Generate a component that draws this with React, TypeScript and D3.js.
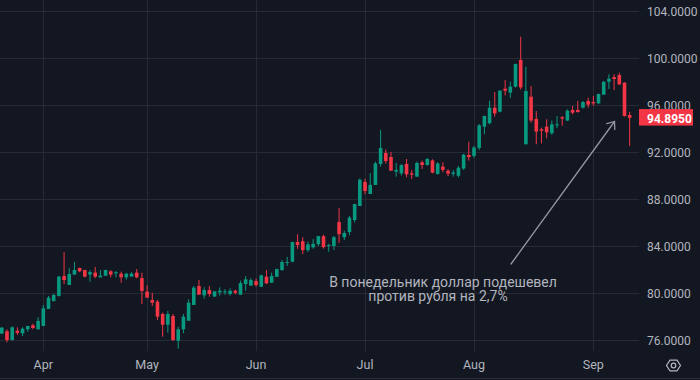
import React from "react";
import * as d3 from "d3";

// Daily USD/RUB candles (index 0 = a few sessions before April)
const opens = [
  76.55, 76.74, 76.0, 76.79, 76.57, 76.91, 77.25, 76.91, 77.19, 78.64,
  79.32, 79.74, 81.44, 80.68, 81.56, 82.12, 81.95, 81.56, 81.73, 81.33,
  81.47, 81.84, 81.67, 81.64, 81.33, 81.39, 81.73, 81.27, 80.11, 79.4,
  79.26, 78.21, 77.3, 78.04, 75.94, 76.91, 77.64, 78.98, 80.59, 79.8,
  80.25, 79.69, 80.05, 80.1, 79.91, 80.19, 79.85, 80.76, 80.62, 81.01,
  80.53, 81.38, 80.87, 81.38, 81.95, 82.57, 82.66, 84.33, 84.4, 83.64,
  83.88, 84.15, 84.83, 84.0, 83.99, 86.03, 84.74, 85.17, 86.2, 87.39,
  89.44, 88.41, 89.18, 90.97, 91.9, 91.56, 90.32, 90.17, 90.97, 90.17,
  89.89, 91.11, 90.88, 91.27, 90.12, 90.74, 90.4, 90.13, 89.96, 90.58,
  91.73, 91.65, 92.33, 94.14, 94.43, 95.75, 95.41, 97.37, 97.03, 97.54,
  99.81, 92.64, 96.69, 94.8, 93.92, 94.14, 93.58, 94.26, 94.94, 94.66,
  95.56, 95.56, 95.75, 96.32, 96.24, 96.12, 96.86, 97.96, 98.36, 98.53,
  97.88, 95.13,
];
const highs = [
  77.1, 76.91, 77.15, 77.08, 77.08, 77.19, 77.39, 77.93, 78.98, 79.74,
  79.91, 81.45, 83.48, 82.1, 82.63, 82.15, 81.97, 81.95, 82.21, 81.95,
  81.97, 81.93, 81.87, 81.81, 81.7, 81.76, 82.04, 81.73, 80.65, 80.02,
  79.4, 78.32, 78.47, 78.21, 77.13, 78.21, 79.45, 80.59, 81.1, 80.48,
  80.59, 80.16, 80.48, 80.33, 80.39, 80.28, 81.04, 81.44, 81.27, 81.21,
  81.55, 81.95, 81.72, 82.05, 82.8, 83.06, 84.35, 84.98, 84.74, 84.37,
  84.58, 84.85, 84.95, 84.18, 84.85, 87.22, 85.3, 86.54, 87.58, 89.74,
  89.71, 90.2, 91.16, 93.86, 92.19, 91.99, 91.05, 90.94, 91.39, 90.46,
  91.16, 91.25, 91.48, 91.36, 91.11, 91.11, 90.51, 90.46, 90.8, 91.82,
  92.86, 92.5, 94.37, 95.07, 96.35, 97.08, 97.25, 98.1, 97.96, 99.5,
  101.79, 99.24, 97.59, 95.47, 94.06, 94.77, 94.66, 95.05, 95.05, 95.61,
  95.9, 96.32, 96.32, 96.6, 96.75, 96.95, 98.02, 98.59, 98.59, 98.73,
  97.9, 95.41,
];
const lows = [
  76.5, 75.8, 75.95, 76.43, 76.34, 76.71, 76.91, 76.91, 77.19, 78.64,
  79.26, 79.7, 80.76, 80.68, 81.56, 81.76, 81.33, 80.96, 81.25, 81.33,
  81.45, 81.33, 81.33, 80.87, 81.13, 81.39, 81.25, 79.06, 79.6, 78.89,
  77.7, 76.28, 76.62, 75.91, 75.26, 76.57, 77.64, 78.98, 79.85, 79.52,
  79.69, 79.67, 79.77, 79.85, 79.77, 79.88, 79.85, 80.19, 80.62, 80.53,
  80.5, 80.76, 80.87, 81.35, 81.89, 82.29, 82.6, 83.75, 83.3, 83.48,
  83.76, 84.0, 83.77, 83.5, 83.64, 84.26, 84.49, 84.91, 86.0, 87.39,
  88.41, 88.41, 89.18, 90.74, 91.0, 90.37, 89.89, 90.0, 89.83, 89.68,
  89.86, 90.54, 90.83, 90.17, 90.06, 90.26, 89.94, 89.89, 89.82, 90.46,
  91.25, 91.48, 92.16, 93.49, 94.34, 94.99, 95.35, 96.8, 96.6, 97.48,
  97.31, 92.64, 94.48, 92.64, 92.72, 93.15, 93.44, 94.01, 94.23, 94.62,
  95.19, 95.33, 95.7, 95.75, 95.92, 96.1, 96.83, 97.34, 97.25, 97.68,
  95.0, 92.5,
];
const closes = [
  77.05, 76.0, 77.08, 76.6, 76.96, 77.19, 77.02, 77.62, 78.69, 79.6,
  79.83, 81.39, 81.1, 81.61, 81.95, 81.84, 81.39, 81.78, 81.39, 81.47,
  81.95, 81.56, 81.76, 81.33, 81.64, 81.64, 81.33, 80.17, 79.6, 79.17,
  77.98, 77.3, 78.21, 76.0, 76.91, 77.98, 79.17, 80.45, 79.85, 80.25,
  79.91, 80.14, 80.19, 80.14, 80.19, 80.02, 80.84, 81.16, 81.1, 80.67,
  81.5, 80.81, 81.44, 82.03, 82.63, 82.63, 84.33, 84.07, 83.64, 84.14,
  84.17, 84.83, 83.9, 84.08, 84.74, 85.0, 85.1, 86.4, 87.56, 89.63,
  88.67, 89.18, 91.02, 92.33, 91.22, 90.4, 90.46, 90.88, 90.09, 90.06,
  91.05, 90.88, 91.39, 90.23, 91.02, 90.46, 90.15, 90.25, 90.65, 91.76,
  91.55, 92.37, 94.25, 95.05, 95.75, 95.27, 97.2, 97.2, 97.54, 99.47,
  97.48, 97.17, 94.66, 93.72, 93.8, 93.66, 94.34, 94.34, 94.83, 95.5,
  95.33, 95.39, 96.24, 96.01, 96.12, 96.92, 97.96, 98.22, 98.19, 97.74,
  95.05, 94.895,
];

const monthLabels = ["Apr", "May", "Jun", "Jul", "Aug", "Sep"];
const monthBarIndex = [8, 28, 49, 70, 91, 114];
const priceTicks = [76, 80, 84, 88, 92, 96, 100, 104];
const lastPrice = 94.895;
const noteLines = ["В понедельник доллар подешевел", "против рубля на 2,7%"];

const BG = "#131722";
const GRID = "#262a35";
const UP = "#089981";
const DOWN = "#f23645";
const TEXT = "#b2b5be";
const FONT = "Roboto, 'Liberation Sans', sans-serif";

export default function App() {
  const W = 700;
  const H = 380;
  const plotRight = 639;
  const plotBottom = 351;
  const n = opens.length;
  const step = 5.189;

  const x = d3
    .scaleLinear()
    .domain([0, n - 1])
    .range([1.8, 1.8 + step * (n - 1)]);
  const y = d3.scaleLinear().domain([76, 104]).range([340, 10.7]);

  const bodyW = 3.6;

  // annotation arrow (drawing anchored on chart)
  const ax0 = 511,
    ay0 = 264,
    ax1 = 614.5,
    ay1 = 121.5;
  const ang = Math.atan2(ay0 - ay1, ax0 - ax1);
  const headLen = 8;
  const spread = (38 * Math.PI) / 180;
  const h1 = [ax1 + headLen * Math.cos(ang + spread), ay1 + headLen * Math.sin(ang + spread)];
  const h2 = [ax1 + headLen * Math.cos(ang - spread), ay1 + headLen * Math.sin(ang - spread)];

  // settings icon hexagon
  const cx = 673.5,
    cy = 365.5;
  const hex = d3.range(6).map((k) => {
    const a = (Math.PI / 3) * k;
    return [cx + 7 * Math.cos(a), cy + 6.2 * Math.sin(a)];
  });

  const labelY = y(lastPrice);

  return (
    <svg
      width={W}
      height={H}
      style={{ position: "fixed", left: 0, top: 0, display: "block" }}
      fontFamily={FONT}
    >
      <rect x={0} y={0} width={W} height={H} fill={BG} />

      {/* grid */}
      {priceTicks.map((p) => (
        <line
          key={"h" + p}
          x1={0}
          x2={plotRight}
          y1={Math.round(y(p)) + 0.5}
          y2={Math.round(y(p)) + 0.5}
          stroke={GRID}
          strokeWidth={1}
        />
      ))}
      {monthBarIndex.map((i, k) => (
        <line
          key={"v" + k}
          x1={Math.round(x(i)) + 0.5}
          x2={Math.round(x(i)) + 0.5}
          y1={0}
          y2={plotBottom}
          stroke={GRID}
          strokeWidth={1}
        />
      ))}

      {/* candles */}
      {opens.map((o, i) => {
        const c = closes[i];
        const up = c >= o;
        const col = up ? UP : DOWN;
        const xc = x(i);
        const yTop = y(Math.max(o, c));
        const yBot = y(Math.min(o, c));
        return (
          <g key={i}>
            <line x1={xc} x2={xc} y1={y(highs[i])} y2={y(lows[i])} stroke={col} strokeWidth={1} />
            <rect
              x={xc - bodyW / 2}
              y={yTop}
              width={bodyW}
              height={Math.max(1, yBot - yTop)}
              fill={col}
            />
          </g>
        );
      })}

      {/* annotation */}
      <g stroke="#9598a1" strokeWidth={1.3} fill="none" strokeLinecap="round">
        <line x1={ax0} y1={ay0} x2={ax1} y2={ay1} />
        <polyline points={`${h1[0]},${h1[1]} ${ax1},${ay1} ${h2[0]},${h2[1]}`} />
      </g>
      <text x={443} y={286.5} fill={TEXT} fontSize={14} textAnchor="middle">
        {noteLines[0]}
      </text>
      <text x={438} y={301} fill={TEXT} fontSize={14} textAnchor="middle">
        {noteLines[1]}
      </text>

      {/* price axis */}
      {priceTicks.map((p) => (
        <text key={"t" + p} x={647} y={y(p) + 5} fill={TEXT} fontSize={12}>
          {p.toFixed(4)}
        </text>
      ))}
      <rect x={639} y={labelY - 8.7} width={54} height={16.5} fill={DOWN} />
      <text x={647} y={labelY + 4.8} fill="#ffffff" fontSize={12} fontWeight={700}>
        {lastPrice.toFixed(4)}
      </text>

      {/* time axis */}
      {monthBarIndex.map((i, k) => (
        <text
          key={"m" + k}
          x={x(i)}
          y={369}
          fill={TEXT}
          fontSize={12.5}
          textAnchor="middle"
        >
          {monthLabels[k]}
        </text>
      ))}
      <line x1={0} x2={W} y1={378.5} y2={378.5} stroke="#2a2e39" strokeWidth={1} />

      {/* settings icon */}
      <polygon
        points={hex.map((p) => p.join(",")).join(" ")}
        fill="none"
        stroke={TEXT}
        strokeWidth={1.2}
      />
      <circle cx={cx} cy={cy} r={2.3} fill="none" stroke={TEXT} strokeWidth={1.2} />
    </svg>
  );
}
